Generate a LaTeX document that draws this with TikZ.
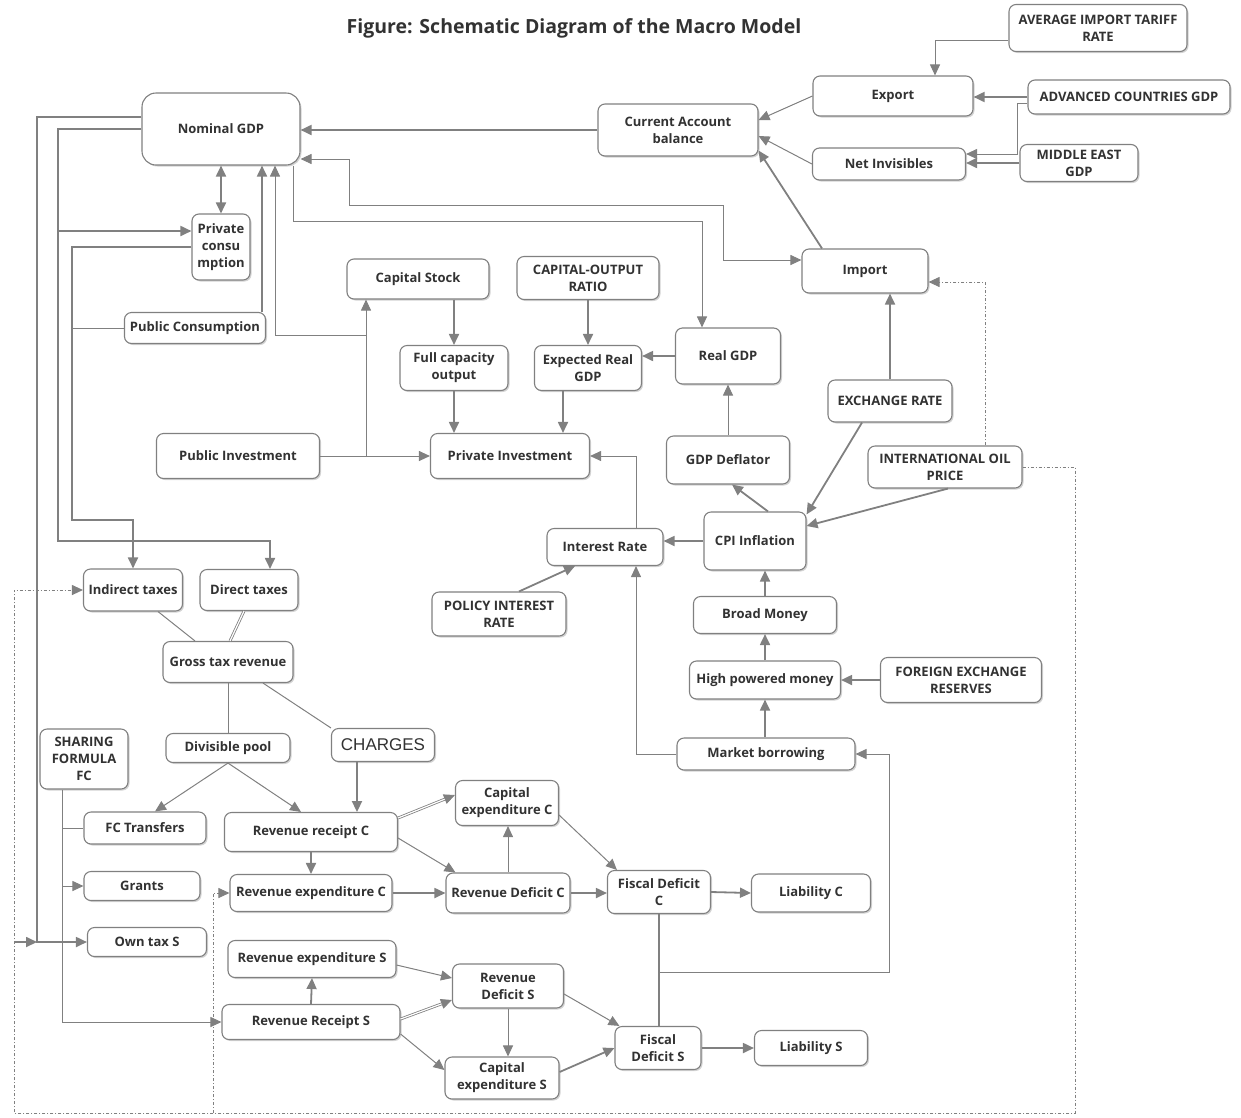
\documentclass[tikz,border=0pt]{standalone}
\usepackage{fontspec}
\setmainfont{Open Sans}
\newfontfamily\chargesfont{Liberation Sans}
\usetikzlibrary{arrows.meta,shadows}
\definecolor{linegray}{RGB}{128,128,128}
\definecolor{textgray}{RGB}{50,50,50}
\begin{document}
\begin{tikzpicture}[x=1pt, y=-1pt,
    box/.style={draw=linegray, line width=1.1pt, rounded corners=7pt, fill=white,
      drop shadow={opacity=0.35, shadow xshift=1.5pt, shadow yshift=-1.5pt},
      text=textgray, font=\bfseries\fontsize{13}{17}\selectfont, align=center, inner sep=1pt},
    arr/.style={draw=linegray, line width=1.8pt, -{Triangle[length=11pt,width=10pt]}},
    link/.style={draw=linegray, line width=1pt, -{Triangle[length=11pt,width=10pt]}},
    both/.style={{Triangle[length=11pt,width=10pt]}-{Triangle[length=11pt,width=10pt]}},
    plain/.style={draw=linegray, line width=1pt},
    dbl/.style={draw=linegray, double=white, double distance=1.2pt, line width=0.8pt, -{Triangle[length=11pt,width=10pt]}},
    dashlink/.style={draw=linegray, line width=1pt, dash dot, -{Triangle[length=11pt,width=10pt]}}]
   \useasboundingbox (0,0) rectangle (1241,1117);
   \node[text=textgray, font=\bfseries\fontsize{19.5}{22}\selectfont] (title) at (574,28) {Figure: Schematic Diagram of the Macro Model};
   \node[box, rounded corners=14pt, minimum width=158pt, minimum height=72pt] (ngdp) at (221,129) {Nominal GDP};
   \node[box, minimum width=160pt, minimum height=52pt] (cab) at (678,130) {Current Account\\balance};
   \node[box, minimum width=160pt, minimum height=40pt] (export) at (893,96) {Export};
   \node[box, minimum width=178pt, minimum height=47pt] (tariff) at (1098,28) {AVERAGE IMPORT TARIFF\\RATE};
   \node[box, minimum width=202pt, minimum height=34pt] (advgdp) at (1129,97) {ADVANCED COUNTRIES GDP};
   \node[box, minimum width=153pt, minimum height=32pt] (netinv) at (889,164) {Net Invisibles};
   \node[box, minimum width=118pt, minimum height=37pt] (mideast) at (1079,163) {MIDDLE EAST\\GDP};
   \node[box, minimum width=58pt, minimum height=66pt] (pcons) at (221,247) {Private\\consu\\mption};
   \node[box, minimum width=141pt, minimum height=31pt] (pubcons) at (195,328) {Public Consumption};
   \node[box, minimum width=142pt, minimum height=40pt] (capstock) at (418,279) {Capital Stock};
   \node[box, minimum width=142pt, minimum height=43pt] (capout) at (588,278) {CAPITAL-OUTPUT\\RATIO};
   \node[box, minimum width=126pt, minimum height=44pt] (import) at (865,271) {Import};
   \node[box, minimum width=108pt, minimum height=45pt] (fullcap) at (454,368) {Full capacity\\output};
   \node[box, minimum width=107pt, minimum height=45pt] (expreal) at (588,368) {Expected Real\\GDP};
   \node[box, minimum width=105pt, minimum height=56pt] (realgdp) at (728,356) {Real GDP};
   \node[box, minimum width=124pt, minimum height=42pt] (exch) at (890,401) {EXCHANGE RATE};
   \node[box, minimum width=163pt, minimum height=45pt] (pubinv) at (238,456) {Public Investment};
   \node[box, minimum width=159pt, minimum height=45pt] (privinv) at (510,456) {Private Investment};
   \node[box, minimum width=123pt, minimum height=48pt] (defl) at (728,460) {GDP Deflator};
   \node[box, minimum width=154pt, minimum height=42pt] (oil) at (945,467) {INTERNATIONAL OIL\\PRICE};
   \node[box, minimum width=102pt, minimum height=58pt] (cpi) at (755,541) {CPI Inflation};
   \node[box, minimum width=116pt, minimum height=37pt] (irate) at (605,547) {Interest Rate};
   \node[box, minimum width=134pt, minimum height=44pt] (policy) at (499,614) {POLICY INTEREST\\RATE};
   \node[box, minimum width=143pt, minimum height=37pt] (broad) at (765,615) {Broad Money};
   \node[box, minimum width=151pt, minimum height=38pt] (hpm) at (765,680) {High powered money};
   \node[box, minimum width=161pt, minimum height=45pt] (forex) at (961,680) {FOREIGN EXCHANGE\\RESERVES};
   \node[box, minimum width=178pt, minimum height=32pt] (mborrow) at (766,754) {Market borrowing};
   \node[box, minimum width=99pt, minimum height=42pt] (indtax) at (133,590) {Indirect taxes};
   \node[box, minimum width=98pt, minimum height=41pt] (dirtax) at (249,590) {Direct taxes};
   \node[box, minimum width=130pt, minimum height=41pt] (gross) at (228,662) {Gross tax revenue};
   \node[box, minimum width=88pt, minimum height=60pt] (sharing) at (84,759) {SHARING\\FORMULA\\FC};
   \node[box, minimum width=124pt, minimum height=29pt] (divpool) at (228,748) {Divisible pool};
   \node[box, minimum width=103pt, minimum height=33pt, font=\chargesfont\fontsize{17}{20}\selectfont] (charges) at (383,745) {CHARGES};
   \node[box, minimum width=122pt, minimum height=32pt] (fct) at (145,828) {FC Transfers};
   \node[box, minimum width=173pt, minimum height=39pt] (rrc) at (311,832) {Revenue receipt C};
   \node[box, minimum width=103pt, minimum height=45pt] (cec) at (507,803) {Capital\\expenditure C};
   \node[box, minimum width=116pt, minimum height=29pt] (grants) at (142,886) {Grants};
   \node[box, minimum width=162pt, minimum height=37pt] (rec) at (311,893) {Revenue expenditure C};
   \node[box, minimum width=124pt, minimum height=40pt] (rdc) at (508,893) {Revenue Deficit C};
   \node[box, minimum width=103pt, minimum height=43pt] (fdc) at (659,892) {Fiscal Deficit\\C};
   \node[box, minimum width=119pt, minimum height=38pt] (liabc) at (811,893) {Liability C};
   \node[box, minimum width=119pt, minimum height=29pt] (owntax) at (147,942) {Own tax S};
   \node[box, minimum width=168pt, minimum height=37pt] (res) at (312,959) {Revenue expenditure S};
   \node[box, minimum width=111pt, minimum height=44pt] (rds) at (508,986) {Revenue\\Deficit S};
   \node[box, minimum width=178pt, minimum height=35pt] (rrs) at (311,1022) {Revenue Receipt S};
   \node[box, minimum width=114pt, minimum height=42pt] (ces) at (502,1078) {Capital\\expenditure S};
   \node[box, minimum width=86pt, minimum height=43pt] (fds) at (658,1048) {Fiscal\\Deficit S};
   \node[box, minimum width=113pt, minimum height=35pt] (liabs) at (811,1048) {Liability S};
   \coordinate (jinv) at (366,335);
   \coordinate (jpc) at (58,231);
   \coordinate (jfd) at (659,972);
   \coordinate (jdot) at (213,1113);
   \draw[arr] (cab.west) -- (ngdp.east |- cab.west);
   \draw[link] (export.west) -- ([yshift=10pt]cab.east);
   \draw[link] (netinv.west) -- ([yshift=-6pt]cab.east);
   \draw[arr] ([xshift=-43pt]import.north) -- ([yshift=6pt]cab.south east);
   \draw[link] ([yshift=-12pt]tariff.west) -| ([xshift=42pt]export.north);
   \draw[arr] (advgdp.west) -- (export.east |- advgdp.west);
   \draw[link] ([yshift=-6pt]advgdp.west) -- ++(-10,0) |- ([yshift=10pt]netinv.east);
   \draw[arr] (mideast.west) -- (netinv.east |- mideast.west);
   \draw[arr, both] (ngdp.south) -- (pcons.north);
   \draw[arr] (pubcons.north -| 262,0) -- (ngdp.south -| 262,0);
   \draw[link] (pubinv.east) -- (privinv.west);
   \draw[link] (pubinv.east -| jinv) -- (capstock.south -| jinv);
   \draw[link] (jinv) -| (ngdp.south -| 275,0);
   \draw[link, both] ([yshift=-30pt]ngdp.east) -| (349,205) -| (723,260) -- ([yshift=11pt]import.west);
   \draw[link] (ngdp.south -| 293,0) |- (702,221) -- (realgdp.north -| 702,0);
   \draw[arr] (capstock.south -| fullcap.north) -- (fullcap.north);
   \draw[arr] (capout.south) -- (expreal.north);
   \draw[arr] (realgdp.west) -- (expreal.east |- realgdp.west);
   \draw[arr] (fullcap.south) -- (fullcap.south |- privinv.north);
   \draw[arr] (expreal.south -| 563,0) -- (privinv.north -| 563,0);
   \draw[link] (defl.north) -- (defl.north |- realgdp.south);
   \draw[arr] ([xshift=13pt]cpi.north) -- ([xshift=4pt]defl.south);
   \draw[arr] ([xshift=-28pt]exch.south) -- ([yshift=-3pt]cpi.north east);
   \draw[arr] (exch.north) -- (exch.north |- import.south);
   \draw[arr] ([xshift=3pt]oil.south) -- ([yshift=15pt]cpi.east);
   \draw[dashlink] ([xshift=40pt]oil.north) |- ([yshift=-11pt]import.east);
   \draw[dashlink] (oil.east) -| (1075,1113) -| (indtax.west -| 14,0) -- (indtax.west);
   \draw[dashlink] (jdot) |- (rec.west);
   \draw[arr] (cpi.west) -- (irate.east |- cpi.west);
   \draw[arr] ([xshift=20pt]policy.north) -- ([xshift=-30pt]irate.south);
   \draw[link] ([xshift=31pt]irate.north) |- (privinv.east);
   \draw[link] (mborrow.west) -| ([xshift=31pt]irate.south);
   \draw[arr] (broad.north) -- (broad.north |- cpi.south);
   \draw[arr] (hpm.north) -- (broad.south);
   \draw[arr] (mborrow.north -| hpm.south) -- (hpm.south);
   \draw[arr] (forex.west) -- (hpm.east);
   \draw[arr] ([yshift=12pt]ngdp.west) -| (owntax.west -| 37,0) -- (owntax.west);
   \draw[arr] (owntax.west -| 14,0) -- (owntax.west -| 37,0);
   \draw[arr] (ngdp.west) -| (58,541) -| (dirtax.north -| 270,0);
   \draw[arr] (jpc) -- (jpc -| pcons.west);
   \draw[arr] (pcons.west) -| (72,520) -| (indtax.north);
   \draw[plain] (pubcons.west) -- (pubcons.west -| 72,0);
   \draw[link] (sharing.south -| 62,0) |- (rrs.west);
   \draw[plain] (fct.west -| 62,0) -- (fct.west);
   \draw[link] (grants.west -| 62,0) -- (grants.west);
   \draw[plain] ([xshift=25pt]indtax.south) -- ([xshift=-33pt]gross.north);
   \draw[draw=linegray, double=white, double distance=1.2pt, line width=0.8pt] ([xshift=-5pt]dirtax.south) -- ([xshift=2pt]gross.north);
   \draw[plain] (gross.south) -- (divpool.north);
   \draw[plain] ([xshift=35pt]gross.south) -- (charges.north west);
   \draw[link] (divpool.south) -- ([xshift=10pt]fct.north);
   \draw[link] (divpool.south) -- ([xshift=-10pt]rrc.north);
   \draw[arr] ([xshift=-26pt]charges.south) -- ++(0,50);
   \draw[dbl] ([yshift=14pt]rrc.east) -- ([yshift=8pt]cec.west);
   \draw[link] ([yshift=-6pt]rrc.east) -- ([xshift=10pt]rdc.north west);
   \draw[arr] (rrc.south) -- (rec.north);
   \draw[arr] (rec.east) -- (rdc.west);
   \draw[link] (rdc.north) -- (rdc.north |- cec.south);
   \draw[link] ([yshift=-12pt]cec.east) -- ([xshift=10pt]fdc.north west);
   \draw[arr] (rdc.east) -- (fdc.west |- rdc.east);
   \draw[arr] (fdc.east) -- (liabc.west);
   \draw[arr, -] (fdc.south) -- (fds.north -| fdc.south);
   \draw[link] (jfd) -| (mborrow.east -| 889,0) -- (mborrow.east);
   \draw[arr] (rrs.north) -- (res.south);
   \draw[link] ([yshift=-6pt]res.east) -- ([yshift=8pt]rds.west);
   \draw[dbl] ([yshift=3pt]rrs.east) -- ([yshift=-14pt]rds.west);
   \draw[link] ([yshift=-12pt]rrs.east) -- ([yshift=8pt]ces.west);
   \draw[link] (rds.south) -- (rds.south |- ces.north);
   \draw[link] ([yshift=-8pt]rds.east) -- ([xshift=5pt]fds.north west);
   \draw[arr] ([yshift=6pt]ces.east) -- (fds.west);
   \draw[arr] (fds.east) -- (liabs.west);
\end{tikzpicture}
\end{document}
